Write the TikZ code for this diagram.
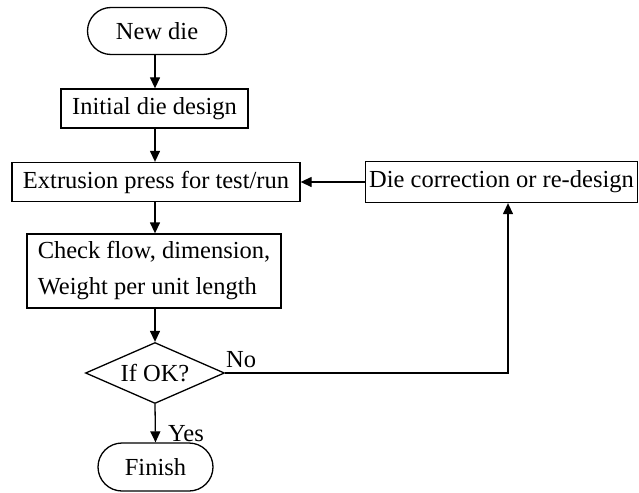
\documentclass[tikz,border=0pt]{standalone}
\usepackage{fontspec}
\setmainfont{Liberation Serif}
\usetikzlibrary{arrows.meta,shapes.geometric,shapes.misc}
\begin{document}
\begin{tikzpicture}[x=1pt,y=-1pt,
  every node/.style={font=\fontsize{24.5}{30}\selectfont, inner sep=0pt},
  box/.style={draw, line width=1.3pt, rectangle},
  term/.style={draw, line width=1.3pt, rounded rectangle},
  dec/.style={draw, line width=1.3pt, diamond, aspect=2.3},
  flow/.style={line width=1.3pt, -{Triangle[width=10pt,length=11pt]}},
  lbl/.style={font=\fontsize{24.5}{30}\selectfont}]
\useasboundingbox (0,0) rectangle (639,492);
\node[term, minimum width=139pt, minimum height=47pt] (new) at (157,31) {New die};
\node[box, minimum width=187pt, minimum height=39pt] (init) at (154.5,108.5) {Initial die design};
\node[box, minimum width=288pt, minimum height=39pt] (extr) at (156,182) {Extrusion press for test/run};
\node[box, minimum width=254pt, minimum height=74pt, align=left] (check) at (154,271)
  {Check flow, dimension,\\[6pt]Weight per unit length};
\node[dec, minimum width=139pt, minimum height=61pt] (ok) at (155,373) {If OK?};
\node[term, minimum width=115pt, minimum height=48pt] (fin) at (155.5,467) {Finish};
\node[box, minimum width=272pt, minimum height=41pt] (corr) at (501.5,182) {Die correction or re-design};
\coordinate (turn) at (508,373);

\draw[flow] (new.south -| 155,0) -- (init.north -| 155,0);
\draw[flow] (init.south -| 155,0) -- (extr.north -| 155,0);
\draw[flow] (extr.south -| 155,0) -- (check.north -| 155,0);
\draw[flow] (check.south -| 155,0) -- (ok.north);
\draw[flow] (ok.south) -- (fin.north);
\draw[flow] (ok.east) -- (turn) -- (corr.south -| turn);
\draw[flow] (corr.west) -- (extr.east);
\node[lbl, anchor=base west] at (226,367) {No};
\node[lbl, anchor=base west] at (168,441) {Yes};
\end{tikzpicture}
\end{document}
